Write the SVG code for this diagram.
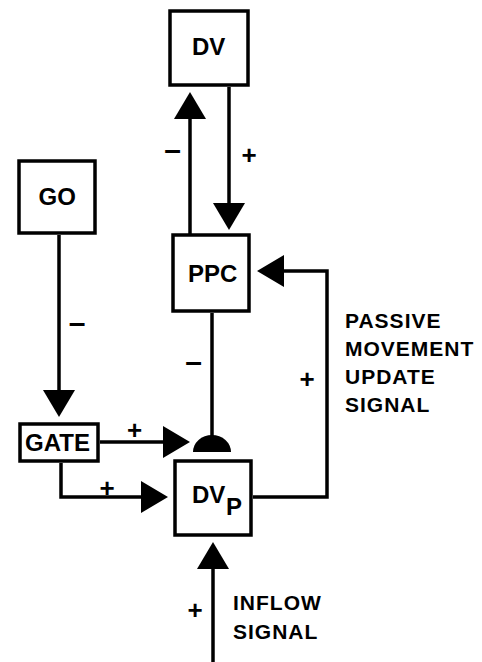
<svg xmlns="http://www.w3.org/2000/svg" width="482" height="662" viewBox="0 0 482 662">
<defs>
<style>
.box{fill:#fff;stroke:#000;stroke-width:3.5}
.ln{fill:none;stroke:#000;stroke-width:3.5}
.lbl{font-family:"Liberation Sans",Arial,sans-serif;font-weight:bold;font-size:24px;fill:#000}
.side{font-family:"Liberation Sans",Arial,sans-serif;font-weight:bold;font-size:21px;fill:#000;letter-spacing:1px}
.sign{font-family:"Liberation Sans",Arial,sans-serif;font-weight:bold;font-size:26px;fill:#000;text-anchor:middle}
.dash{font-family:"Liberation Sans",Arial,sans-serif;font-weight:bold;font-size:30px;fill:#000;text-anchor:middle}
</style>
<marker id="arr" viewBox="0 0 27 32" refX="17" refY="16" markerWidth="27" markerHeight="32" markerUnits="userSpaceOnUse" orient="auto">
<path d="M0,0 L27,16 L0,32 Z" fill="#000"/>
</marker>
</defs>
<rect width="482" height="662" fill="#fff"/>
<g id="connectors">
<path class="ln" d="M190,234 V102" marker-end="url(#arr)"/>
<path class="ln" d="M229,87 V220" marker-end="url(#arr)"/>
<path class="ln" d="M253,497 H327 V271 H267" marker-end="url(#arr)"/>
<path class="ln" d="M59,235 V407" marker-end="url(#arr)"/>
<path class="ln" d="M100,442 H180" marker-end="url(#arr)"/>
<path class="ln" d="M61,463 V497 H158" marker-end="url(#arr)"/>
<path class="ln" d="M212,313 V438"/>
<path d="M193,452 A19,17 0 0 1 231,452 Z" fill="#000"/>
<path class="ln" d="M213,662 V552" marker-end="url(#arr)"/>
<text class="dash" x="172.5" y="160">–</text>
<text class="sign" x="249" y="164">+</text>
<text class="dash" x="77" y="333">–</text>
<text class="sign" x="134.5" y="439">+</text>
<text class="sign" x="107" y="497">+</text>
<text class="dash" x="193.5" y="372">–</text>
<text class="sign" x="307" y="388">+</text>
<text class="sign" x="195" y="619">+</text>
<text class="side" x="345" y="328">PASSIVE</text>
<text class="side" x="345" y="356">MOVEMENT</text>
<text class="side" x="345" y="384">UPDATE</text>
<text class="side" x="345" y="412">SIGNAL</text>
<text class="side" x="233" y="610">INFLOW</text>
<text class="side" x="233" y="639">SIGNAL</text>
</g>
<g id="DV">
<rect class="box" x="170" y="11" width="78" height="74"/>
<text class="lbl" x="192" y="55">DV</text>
</g>
<g id="PPC">
<rect class="box" x="173" y="235" width="76" height="76"/>
<text class="lbl" x="188" y="282">PPC</text>
</g>
<g id="GO">
<rect class="box" x="19" y="161" width="76" height="72"/>
<text class="lbl" x="38.5" y="205">GO</text>
</g>
<g id="GATE">
<rect class="box" x="20" y="424" width="78" height="37"/>
<text class="lbl" x="25" y="451">GATE</text>
</g>
<g id="DVp">
<rect class="box" x="175" y="461" width="76" height="74"/>
<text class="lbl" x="192" y="503">DV</text>
<text class="lbl" x="226" y="515">P</text>
</g>
</svg>
